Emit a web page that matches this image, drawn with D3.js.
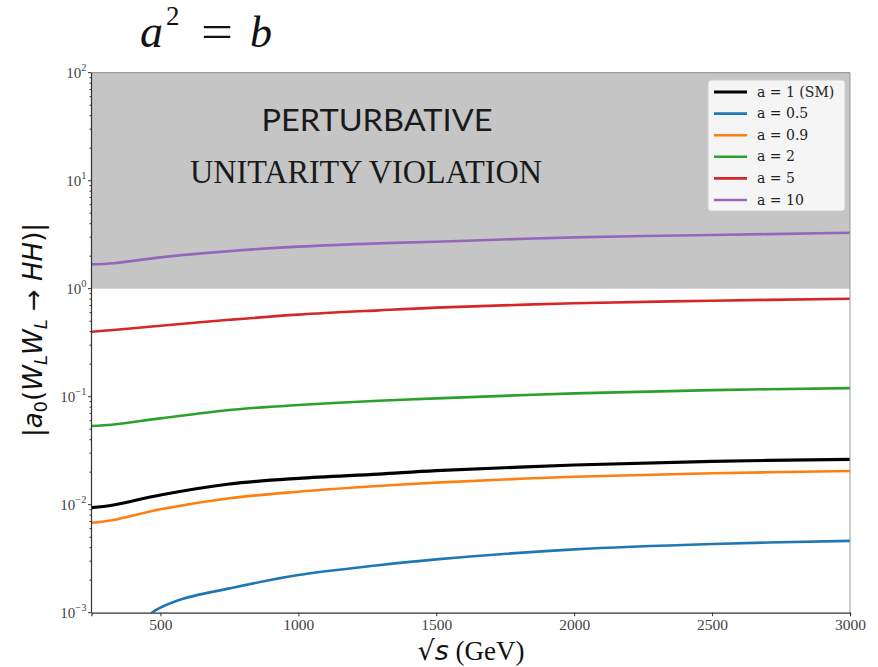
<!DOCTYPE html>
<html><head><meta charset="utf-8">
<script src="https://cdn.jsdelivr.net/npm/d3@7/dist/d3.min.js"></script>
<style>body{margin:0;background:#fff}svg{display:block}</style>
</head><body>
<script>
// ---- data ----
const sqrtS = [250, 330, 500, 750, 1000, 1290, 1500, 2000, 2500, 3000];
const aSM   = [0.00938, 0.00994, 0.0123, 0.01555, 0.01755, 0.0192, 0.02065, 0.0233, 0.0252, 0.0263];
const a09   = [0.0068, 0.00722, 0.00906, 0.01146, 0.0132, 0.0149, 0.0160, 0.01817, 0.01953, 0.0205];
const a2    = [0.0536, 0.0553, 0.063, 0.0753, 0.0838, 0.0918, 0.0964, 0.1074, 0.115, 0.120];
const a5    = [0.40, 0.415, 0.454, 0.515, 0.575, 0.630, 0.668, 0.733, 0.774, 0.808];
const a10   = [1.68, 1.72, 1.95, 2.23, 2.45, 2.63, 2.72, 2.99, 3.14, 3.30];
const sqrtSBlue = [400, 469, 571, 750, 1000, 1290, 1500, 2000, 2500, 3000];
const a05   = [0.0006, 0.001, 0.00132, 0.00168, 0.00223, 0.00275, 0.00312, 0.00386, 0.00433, 0.00462];
const seriesLabels = ["a = 1 (SM)", "a = 0.5", "a = 0.9", "a = 2", "a = 5", "a = 10"];
const seriesColors = ["#000000", "#1f77b4", "#ff7f0e", "#2ca02c", "#d62728", "#9467bd"];
const xTicks = [500, 1000, 1500, 2000, 2500, 3000];
const yTickExps = [-3, -2, -1, 0, 1, 2];
const shadeRange = [1, 100];

const W = 878, H = 667;
const L = 91.5, R = 850, T = 72.7, B = 612.7;
const svg = d3.select("body").append("svg").attr("width", W).attr("height", H);

const x = d3.scaleLinear().domain([250, 3000]).range([L, R]);
const y = d3.scaleLog().domain([1e-3, 1e2]).range([B, T]);

svg.append("defs").append("clipPath").attr("id", "clip")
  .append("rect").attr("x", L).attr("y", T).attr("width", R - L).attr("height", B - T);

// shaded region
svg.append("rect").attr("x", L).attr("y", y(shadeRange[1]))
  .attr("width", R - L).attr("height", y(shadeRange[0]) - y(shadeRange[1]))
  .attr("fill", "#c5c5c5");

// region text
svg.append("text").attr("x", 377).attr("y", 131).attr("text-anchor", "middle")
  .attr("font-family", "Lato, 'Open Sans', sans-serif").attr("font-size", 31)
  .attr("fill", "#1a1a1a").attr("textLength", 231).attr("lengthAdjust", "spacingAndGlyphs")
  .text("PERTURBATIVE");
svg.append("text").attr("x", 366).attr("y", 183).attr("text-anchor", "middle")
  .attr("font-family", "'Liberation Serif', serif").attr("font-size", 33)
  .attr("fill", "#1a1a1a").attr("textLength", 352).attr("lengthAdjust", "spacingAndGlyphs")
  .text("UNITARITY VIOLATION");

// curves
const series = [
  {xs: sqrtS, ys: aSM, w: 3.2},
  {xs: sqrtSBlue, ys: a05, w: 2.6},
  {xs: sqrtS, ys: a09, w: 2.6},
  {xs: sqrtS, ys: a2, w: 2.6},
  {xs: sqrtS, ys: a5, w: 2.6},
  {xs: sqrtS, ys: a10, w: 2.6}
];
const line = d3.line().x(d => x(d[0])).y(d => y(d[1])).curve(d3.curveCatmullRom.alpha(0.5));
const g = svg.append("g").attr("clip-path", "url(#clip)");
series.forEach((s, i) => {
  g.append("path").datum(s.xs.map((v, j) => [v, s.ys[j]]))
    .attr("d", line).attr("fill", "none")
    .attr("stroke", seriesColors[i]).attr("stroke-width", s.w);
});

// spines
svg.append("line").attr("x1", L).attr("x2", R).attr("y1", T).attr("y2", T).attr("stroke", "#888").attr("stroke-width", 1);
svg.append("line").attr("x1", R).attr("x2", R).attr("y1", T).attr("y2", B).attr("stroke", "#999").attr("stroke-width", 1);

// x axis
const xAxis = svg.append("g").attr("transform", `translate(0,${B})`)
  .call(d3.axisBottom(x).tickValues(xTicks).tickSize(3.5).tickPadding(3).tickFormat(d3.format("d")));
xAxis.select(".domain").attr("stroke", "#333").attr("stroke-width", 1.2);
xAxis.selectAll(".tick line").attr("stroke", "#333");
xAxis.selectAll("text").attr("font-family", "'Liberation Serif', serif").attr("font-size", 15.5).attr("fill", "#444");

// y axis (log)
const yAxisG = svg.append("g").attr("transform", `translate(${L},0)`);
yAxisG.append("line").attr("x1", 0).attr("x2", 0).attr("y1", T).attr("y2", B).attr("stroke", "#333").attr("stroke-width", 1.2);
const minor = [];
yTickExps.slice(0, -1).forEach(e => { for (let k = 2; k <= 9; k++) minor.push(k * Math.pow(10, e)); });
yAxisG.selectAll(".minor").data(minor).join("line").attr("class", "minor")
  .attr("x1", -2).attr("x2", 0).attr("y1", d => y(d)).attr("y2", d => y(d)).attr("stroke", "#333");
yAxisG.selectAll(".major").data(yTickExps).join("line").attr("class", "major")
  .attr("x1", -3.5).attr("x2", 0).attr("y1", d => y(Math.pow(10, d))).attr("y2", d => y(Math.pow(10, d))).attr("stroke", "#333");
const yl = yAxisG.selectAll(".ylab").data(yTickExps).join("text").attr("class", "ylab")
  .attr("x", -5).attr("y", d => y(Math.pow(10, d)) + 5).attr("text-anchor", "end")
  .attr("font-family", "'Liberation Serif', serif").attr("font-size", 15).attr("fill", "#444");
yl.append("tspan").text("10");
yl.append("tspan").attr("dy", -7).attr("font-size", 10.5).text(d => d < 0 ? "\u2212" + (-d) : d);

// legend
const lg = svg.append("g");
lg.append("rect").attr("x", 708).attr("y", 80).attr("width", 137).attr("height", 131).attr("rx", 3)
  .attr("fill", "#ffffff").attr("fill-opacity", 0.82).attr("stroke", "#d0d0d0");
seriesLabels.forEach((lab, i) => {
  const yy = 92 + i * 21.6;
  lg.append("line").attr("x1", 714).attr("x2", 747).attr("y1", yy).attr("y2", yy)
    .attr("stroke", seriesColors[i]).attr("stroke-width", i === 0 ? 3.2 : 2.6);
  lg.append("text").attr("x", 757).attr("y", yy + 4.5)
    .attr("font-family", "'DejaVu Serif', serif").attr("font-size", 14).attr("fill", "#222").text(lab);
});

// x label
const xl = svg.append("text").attr("x", 471).attr("y", 660).attr("text-anchor", "middle")
  .attr("font-size", 27).attr("fill", "#111");
xl.append("tspan").attr("font-family", "'DejaVu Sans', sans-serif").text("\u221A");
xl.append("tspan").attr("font-family", "'DejaVu Sans', sans-serif").attr("font-style", "italic").text("s");
xl.append("tspan").attr("font-family", "'Liberation Serif', serif").text(" (GeV)");

// y label
const ylab = svg.append("text").attr("transform", "translate(42,330) rotate(-90)")
  .attr("text-anchor", "middle").attr("font-family", "'DejaVu Sans', sans-serif")
  .attr("font-size", 26).attr("fill", "#111");
ylab.append("tspan").text("|");
ylab.append("tspan").attr("font-style", "italic").text("a");
ylab.append("tspan").attr("font-size", 18).attr("dy", 5).text("0");
ylab.append("tspan").attr("dy", -5).text("(");
ylab.append("tspan").attr("font-style", "italic").text("W");
ylab.append("tspan").attr("font-style", "italic").attr("font-size", 18).attr("dy", 5).text("L");
ylab.append("tspan").attr("font-style", "italic").attr("dy", -5).text("W");
ylab.append("tspan").attr("font-style", "italic").attr("font-size", 18).attr("dy", 5).text("L");
ylab.append("tspan").attr("dy", -5).text(" \u2192 ");
ylab.append("tspan").attr("font-style", "italic").text("HH");
ylab.append("tspan").text(")|");

// title a^2 = b
const tf = "'Liberation Serif', 'Times New Roman', serif";
svg.append("text").attr("x", 140).attr("y", 47).attr("font-family", tf).attr("font-style", "italic")
  .attr("font-size", 46).attr("fill", "#111").text("a");
svg.append("text").attr("x", 166).attr("y", 25).attr("font-family", tf)
  .attr("font-size", 27).attr("fill", "#111").text("2");
svg.append("text").attr("x", 201).attr("y", 47).attr("font-family", tf)
  .attr("font-size", 46).attr("fill", "#111").attr("textLength", 32).attr("lengthAdjust", "spacingAndGlyphs").text("=");
svg.append("text").attr("x", 250).attr("y", 47).attr("font-family", tf).attr("font-style", "italic")
  .attr("font-size", 44).attr("fill", "#111").text("b");
</script>
</body></html>
